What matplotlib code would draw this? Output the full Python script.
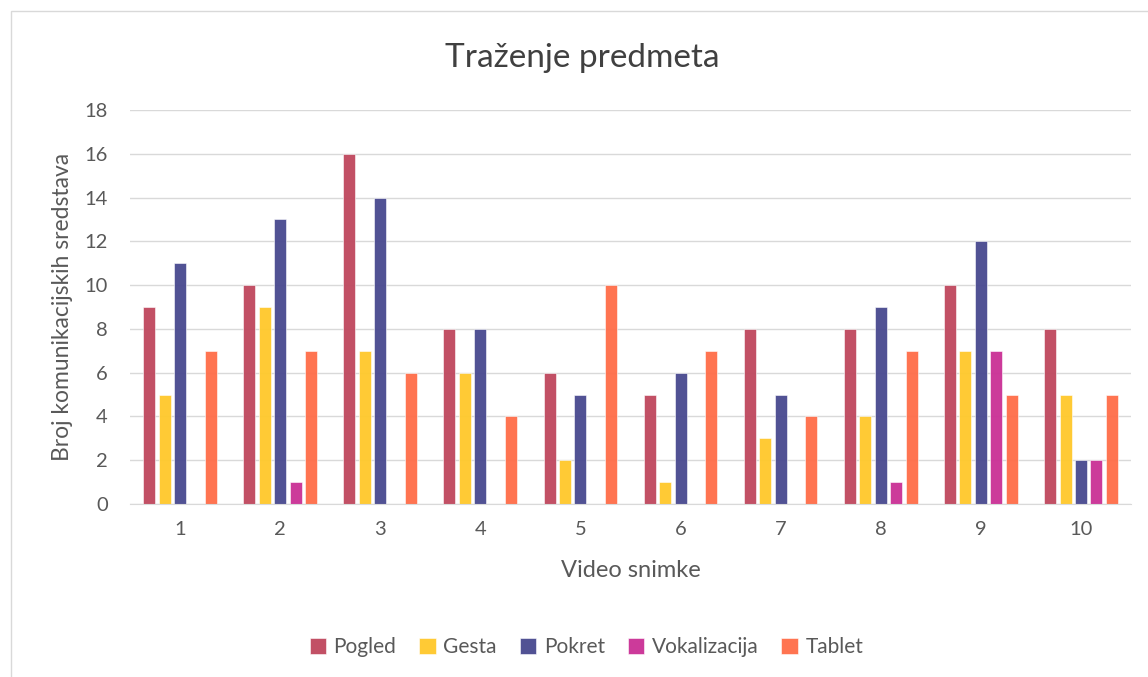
import matplotlib.pyplot as plt
import numpy as np
from matplotlib.patches import Rectangle

plt.rcParams['font.family'] = ['Lato', 'DejaVu Sans']

# Data
videos = ['1', '2', '3', '4', '5', '6', '7', '8', '9', '10']
series_names = ['Pogled', 'Gesta', 'Pokret', 'Vokalizacija', 'Tablet']
pogled = [9, 10, 16, 8, 6, 5, 8, 8, 10, 8]
gesta = [5, 9, 7, 6, 2, 1, 3, 4, 7, 5]
pokret = [11, 13, 14, 8, 5, 6, 5, 9, 12, 2]
vokalizacija = [0, 1, 0, 0, 0, 0, 0, 1, 7, 2]
tablet = [7, 7, 6, 4, 10, 7, 4, 7, 5, 5]

colors = ['#C04A60', '#FFC92E', '#4B4C91', '#CB3397', '#FF6F4B']
values = [pogled, gesta, pokret, vokalizacija, tablet]

fig = plt.figure(figsize=(11.48, 6.77), dpi=100)
fig.patches.append(Rectangle((11 / 1148, -0.01), 1.1, 1 - 11 / 677 + 0.01,
                             transform=fig.transFigure, fill=False,
                             edgecolor='#D9D9D9', linewidth=1))
ax = fig.add_axes([0.1132, 0.2555, 0.872, 0.582])

x = np.arange(len(videos))
step = 0.154
width = 0.12
for i, (name, vals, c) in enumerate(zip(series_names, values, colors)):
    ax.bar(x + (i - 2) * step, vals, width, color=c, label=name,
           edgecolor='white', linewidth=0.4, zorder=2, alpha=0.97)

ax.set_xlim(-0.5, len(videos) - 0.5)
ax.set_ylim(0, 18)
ax.set_yticks(range(0, 19, 2))
ax.set_xticks(x)
ax.set_xticklabels(videos)
ax.tick_params(length=0, labelsize=14.5, colors='#595959', pad=12)
ax.tick_params(axis='y', pad=16)
ax.grid(axis='y', color='#D9D9D9', linewidth=1, zorder=0)
for s in ['top', 'right', 'left']:
    ax.spines[s].set_visible(False)
ax.spines['bottom'].set_color('#D9D9D9')

fig.text(0.507, 0.915, 'Traženje predmeta', fontsize=24, color='#404040',
         ha='center', va='center')
ax.set_xlabel('Video snimke', fontsize=17, color='#595959', labelpad=16)
ax.set_ylabel('Broj komunikacijskih sredstava', fontsize=16.5, color='#595959',
              labelpad=8)

leg = ax.legend(loc='upper center', bbox_to_anchor=(0.456, -0.29), ncol=5,
                frameon=False, fontsize=15, handlelength=0.8, handleheight=0.8,
                columnspacing=1.1, handletextpad=0.35)
for t in leg.get_texts():
    t.set_color('#595959')

fig.savefig('out.png', dpi=100)
